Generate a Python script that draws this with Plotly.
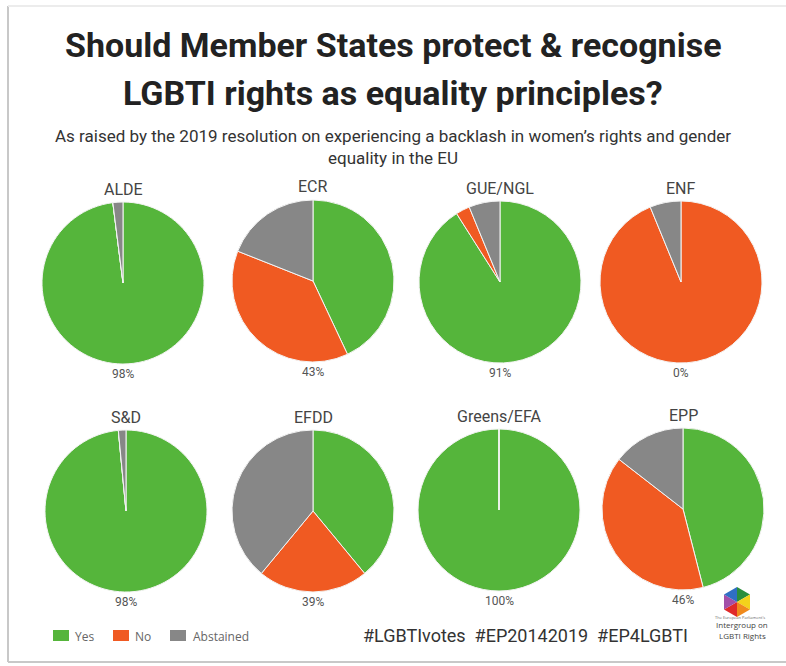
import plotly.graph_objects as go
import math

W, H = 786, 666

groups = ["ALDE", "ECR", "GUE/NGL", "ENF", "S&D", "EFDD", "Greens/EFA", "EPP"]
yes_pct = [98, 43, 91, 0, 98, 39, 100, 46]
no_pct = [0, 38, 2.8, 93.8, 0, 22, 0, 39.5]
abstained_pct = [2, 19, 6.2, 6.2, 1.5, 39, 0, 14.5]
vote_labels = ["Yes", "No", "Abstained"]
colors = ["#55b53b", "#f05a22", "#878787"]

# pixel layout of each pie (center x, center y)
centers = [(123, 283), (313, 281), (500, 282), (681, 282),
           (126, 511), (313, 511), (499, 510), (683, 509)]
R = 81

fig = go.Figure()
annotations = []
for i, g in enumerate(groups):
    cx, cy = centers[i]
    fig.add_trace(go.Pie(
        labels=vote_labels,
        values=[yes_pct[i], no_pct[i], abstained_pct[i]],
        sort=False, direction="clockwise", rotation=0,
        marker=dict(colors=colors, line=dict(color="#f4f4f4", width=1)),
        textinfo="none", hoverinfo="label+percent", showlegend=False,
        domain=dict(x=[(cx - R) / W, (cx + R) / W],
                    y=[1 - (cy + R) / H, 1 - (cy - R) / H]),
    ))
    annotations.append(dict(x=cx / W, y=1 - (cy - R - 13) / H, xref="paper", yref="paper",
                            text=g, showarrow=False, xanchor="center", yanchor="middle",
                            font=dict(family="Roboto", size=16, color="#444")))
    annotations.append(dict(x=cx / W, y=1 - (cy + R + 10) / H, xref="paper", yref="paper",
                            text=f"{yes_pct[i]}%", showarrow=False, xanchor="center", yanchor="middle",
                            font=dict(family="Roboto", size=12, color="#555")))

# titles
annotations.append(dict(x=0.5, y=1 - 45 / H, xref="paper", yref="paper",
                        text="<b>Should Member States protect & recognise</b>", showarrow=False,
                        xanchor="center", yanchor="middle",
                        font=dict(family="Roboto", size=34, color="#222")))
annotations.append(dict(x=0.5, y=1 - 93 / H, xref="paper", yref="paper",
                        text="<b>LGBTI rights as equality principles?</b>", showarrow=False,
                        xanchor="center", yanchor="middle",
                        font=dict(family="Roboto", size=34, color="#222")))
annotations.append(dict(x=0.5, y=1 - 136 / H, xref="paper", yref="paper",
                        text="As raised by the 2019 resolution on experiencing a backlash in women\u2019s rights and gender",
                        showarrow=False, xanchor="center", yanchor="middle",
                        font=dict(family="Roboto", size=17, color="#333")))
annotations.append(dict(x=0.5, y=1 - 158 / H, xref="paper", yref="paper",
                        text="equality in the EU", showarrow=False, xanchor="center", yanchor="middle",
                        font=dict(family="Roboto", size=17, color="#333")))

shapes = []
# legend
leg_sq = [(53, 69), (113, 129), (170, 186)]
leg_tx = [73, 133, 191]
for (x0, x1), tx, lab, col in zip(leg_sq, leg_tx, vote_labels, colors):
    shapes.append(dict(type="rect", xref="paper", yref="paper",
                       x0=x0 / W, x1=x1 / W, y0=1 - 641 / H, y1=1 - 630 / H,
                       fillcolor=col, line=dict(width=0)))
    annotations.append(dict(x=tx / W, y=1 - 636 / H, xref="paper", yref="paper",
                            text=lab, showarrow=False, xanchor="left", yanchor="middle",
                            font=dict(family="Open Sans", size=12, color="#666")))

annotations.append(dict(x=525 / W, y=1 - 635 / H, xref="paper", yref="paper",
                        text="#LGBTIvotes  #EP20142019  #EP4LGBTI", showarrow=False,
                        xanchor="center", yanchor="middle",
                        font=dict(family="Roboto", size=18, color="#333")))

# logo: hexagon of six coloured triangles
hx, hy, hr = 737, 602, 15
hex_cols = ["#2a8e3c", "#f3d21b", "#f08a1c", "#e02a2a", "#a34fa8", "#2f6fc4"]
for k in range(6):
    a0 = math.radians(90 - 60 * k)
    a1 = math.radians(90 - 60 * (k + 1))
    p = [(hx, hy), (hx + hr * math.cos(a0), hy - hr * math.sin(a0)),
         (hx + hr * math.cos(a1), hy - hr * math.sin(a1))]
    path = "M " + " L ".join(f"{x / W},{1 - y / H}" for x, y in p) + " Z"
    shapes.append(dict(type="path", xref="paper", yref="paper", path=path,
                       fillcolor=hex_cols[k], line=dict(width=0)))
annotations.append(dict(x=740 / W, y=1 - 622 / H, xref="paper", yref="paper",
                        text="The European Parliament's", showarrow=False, xanchor="center",
                        font=dict(family="Open Sans", size=4, color="#666")))
annotations.append(dict(x=742 / W, y=1 - 632 / H, xref="paper", yref="paper",
                        text="Intergroup on", showarrow=False, xanchor="center",
                        font=dict(family="Open Sans", size=8, color="#444")))
annotations.append(dict(x=742 / W, y=1 - 643 / H, xref="paper", yref="paper",
                        text="LGBTI Rights", showarrow=False, xanchor="center",
                        font=dict(family="Open Sans", size=8, color="#444")))

# frame
shapes.append(dict(type="line", xref="paper", yref="paper", x0=8 / W, x1=8 / W,
                   y0=1 - 662 / H, y1=1 - 6 / H, line=dict(color="#c8c8c8", width=2)))
shapes.append(dict(type="line", xref="paper", yref="paper", x0=8 / W, x1=1,
                   y0=1 - 6 / H, y1=1 - 6 / H, line=dict(color="#ececec", width=2)))
shapes.append(dict(type="line", xref="paper", yref="paper", x0=8 / W, x1=1,
                   y0=1 - 662 / H, y1=1 - 662 / H, line=dict(color="#c8c8c8", width=2)))

fig.update_layout(width=W, height=H, margin=dict(l=0, r=0, t=0, b=0),
                  paper_bgcolor="white", plot_bgcolor="white",
                  annotations=annotations, shapes=shapes)
fig.write_html("out.html")
